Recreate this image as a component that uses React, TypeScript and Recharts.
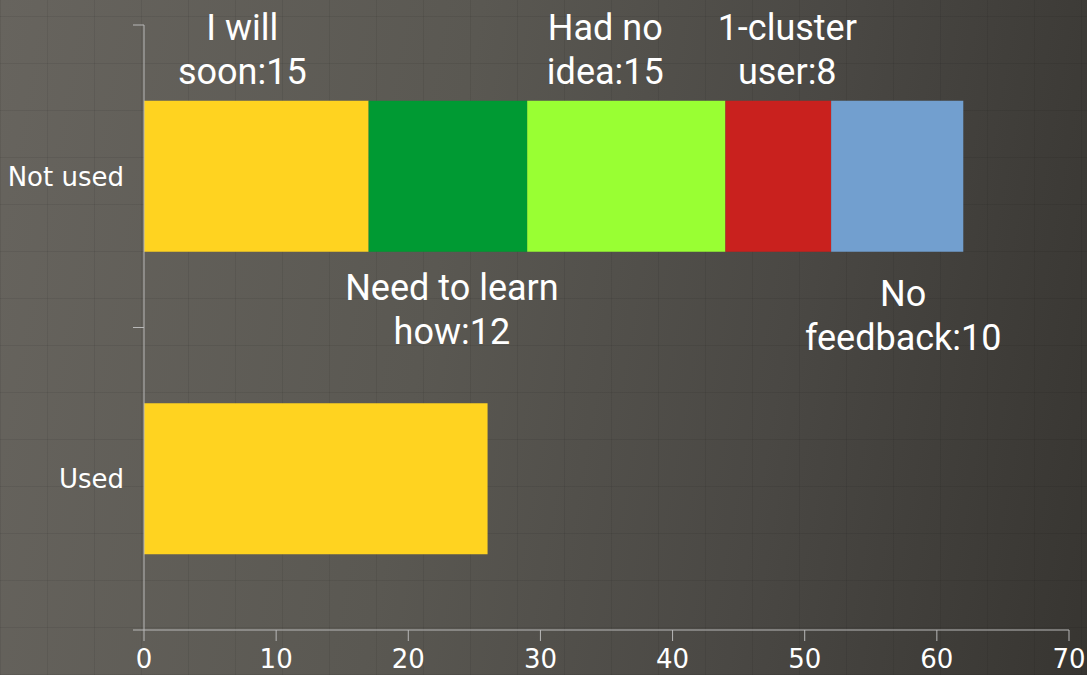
import { BarChart, Bar, XAxis, YAxis, LabelList } from "recharts";

const categories = ["Not used", "Used"];
const segmentNames = [
  "I will soon",
  "Need to learn how",
  "Had no idea",
  "1-cluster user",
  "No feedback",
];
const notUsedValues = [17, 12, 15, 8, 10];
const usedValues = [26, 0, 0, 0, 0];
const labelCounts = [15, 12, 15, 8, 10];
const xTicks = [0, 10, 20, 30, 40, 50, 60, 70];

const COLORS = ["#ffd320", "#009a33", "#99ff33", "#c9211e", "#729fcf"];
// label placement tweaks per segment
const LABEL_BELOW = [false, true, false, false, true];
const LABEL_DX = [-14, 4, -21, 9, 6];
const LABEL_DY = [0, 0, 0, 0, 6];

const W = 1087;
const H = 675;
const MARGIN = { top: 25, right: 18, bottom: 0, left: 0 };
const X_AXIS_H = 45;
const PLOT_H = H - MARGIN.top - MARGIN.bottom - X_AXIS_H;
const AXIS_COLOR = "#b8b8b8";
const TICK_FONT = "'DejaVu Sans', sans-serif";

const data = categories.map((name, r) => {
  const row: Record<string, string | number> = { name };
  const vals = r === 0 ? notUsedValues : usedValues;
  segmentNames.forEach((_, i) => {
    row[`s${i}`] = vals[i];
  });
  return row;
});

const splitLabel = (i: number) => {
  const words = segmentNames[i].split(" ");
  const last = words.pop();
  return [words.join(" "), `${last}:${labelCounts[i]}`];
};

const SegmentLabel = (props: any, i: number) => {
  const { x, y, width, height, index } = props;
  if (index !== 0) return null;
  const cx = Number(x) + Number(width) / 2 + LABEL_DX[i];
  const [l1, l2] = splitLabel(i);
  const below = LABEL_BELOW[i];
  const y1 =
    (below ? Number(y) + Number(height) + 48 : Number(y) - 61) + LABEL_DY[i];
  const y2 = y1 + 44;
  return (
    <g>
      <text
        x={cx}
        y={y1}
        textAnchor="middle"
        fill="#ffffff"
        fontSize={36}
        fontFamily="Roboto, sans-serif"
      >
        {l1}
      </text>
      <text
        x={cx}
        y={y2}
        textAnchor="middle"
        fill="#ffffff"
        fontSize={36}
        fontFamily="Roboto, sans-serif"
      >
        {l2}
      </text>
    </g>
  );
};

const CategoryTick = (props: any) => {
  const { x, y, payload } = props;
  const half = PLOT_H / categories.length / 2;
  const ax = x + 20;
  return (
    <g>
      <line x1={ax - 11} x2={ax} y1={y - half} y2={y - half} stroke={AXIS_COLOR} />
      <line x1={ax - 11} x2={ax} y1={y + half} y2={y + half} stroke={AXIS_COLOR} />
      <text
        x={x}
        y={y + 9.5}
        textAnchor="end"
        fill="#ffffff"
        fontSize={26}
        fontFamily={TICK_FONT}
      >
        {payload.value}
      </text>
    </g>
  );
};

export default function App() {
  return (
    <div
      style={{
        position: "absolute",
        top: 0,
        left: 0,
        width: W,
        height: H,
        background:
          "repeating-linear-gradient(90deg, rgba(0,0,0,0.07) 0px, rgba(0,0,0,0.07) 1px, transparent 1px, transparent 47px), repeating-linear-gradient(0deg, rgba(0,0,0,0.07) 0px, rgba(0,0,0,0.07) 1px, transparent 1px, transparent 47px), linear-gradient(100deg, #67645e 0%, #5a5852 40%, #4a4844 70%, #373531 100%)",
      }}
    >
      <BarChart
        width={W}
        height={H}
        data={data}
        layout="vertical"
        margin={MARGIN}
        barCategoryGap="25%"
      >
        <XAxis
          type="number"
          domain={[0, 70]}
          ticks={xTicks}
          height={X_AXIS_H}
          stroke={AXIS_COLOR}
          tickSize={11}
          tickMargin={9}
          tick={{ fill: "#ffffff", fontSize: 26, fontFamily: TICK_FONT }}
          interval={0}
        />
        <YAxis
          type="category"
          dataKey="name"
          width={144}
          stroke={AXIS_COLOR}
          tickLine={false}
          tickSize={11}
          tickMargin={9}
          tick={CategoryTick}
          interval={0}
        />
        {segmentNames.map((name, i) => (
          <Bar
            key={name}
            dataKey={`s${i}`}
            name={name}
            stackId="a"
            fill={COLORS[i]}
            isAnimationActive={false}
          >
            <LabelList
              dataKey={`s${i}`}
              content={(p: any) => SegmentLabel(p, i)}
            />
          </Bar>
        ))}
      </BarChart>
    </div>
  );
}
